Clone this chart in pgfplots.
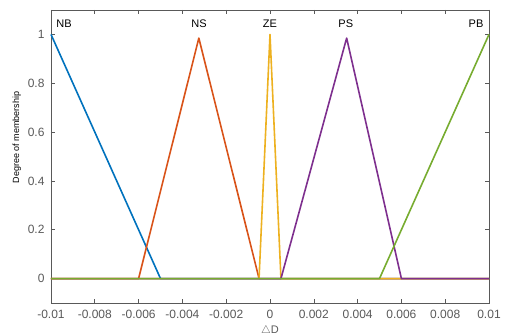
\documentclass[border=0pt]{standalone}
\usepackage{pgfplots}
\pgfplotsset{compat=1.18}
\usetikzlibrary{calc}
\usepackage{fontspec}
\setmainfont{Liberation Sans}
\definecolor{mb}{rgb}{0,0.447,0.741}
\definecolor{mo}{rgb}{0.85,0.325,0.098}
\definecolor{my}{rgb}{0.929,0.694,0.125}
\definecolor{mp}{rgb}{0.494,0.184,0.556}
\definecolor{mg}{rgb}{0.466,0.674,0.188}
\definecolor{axc}{rgb}{0.35,0.35,0.35}
\begin{document}
\begin{tikzpicture}
\begin{axis}[name=ax,
  scale only axis, width=438pt, height=293pt,
  xmin=-0.01, xmax=0.01, ymin=-0.1, ymax=1.1,
  xtick={-0.01,-0.008,-0.006,-0.004,-0.002,0,0.002,0.004,0.006,0.008,0.01},
  xticklabels={-0.01,-0.008,-0.006,-0.004,-0.002,0,0.002,0.004,0.006,0.008,0.01},
  ytick={0,0.2,0.4,0.6,0.8,1},
  yticklabels={0,0.2,0.4,0.6,0.8,1},
  scaled x ticks=false,
  tick align=inside, major tick length=4pt,
  axis line style={axc, line width=0.6pt},
  every tick/.style={axc, line width=0.6pt},
  tick label style={font=\fontsize{12}{14}\selectfont, text=axc},
  xticklabel style={yshift=-4pt},
  yticklabel style={xshift=-3pt},
  xlabel={$\triangle$D}, ylabel={Degree of membership},
  xlabel style={at={(axis description cs:0.5,0)}, anchor=north, inner sep=0pt, yshift=-22.5pt, font=\fontsize{11}{13}\selectfont, text=axc},
  ylabel style={at={(ticklabel cs:0.565)}, font=\fontsize{9}{11}\selectfont, yshift=0pt},
  every axis plot/.append style={line width=1.6pt, line join=round},
  clip=false,
]
\addplot[mb] coordinates {(-0.01,1) (-0.005,0) (0.01,0)};
\addplot[mo] coordinates {(-0.01,0) (-0.006,0) (-0.00325,0.985) (-0.0005,0) (0.01,0)};
\addplot[my] coordinates {(-0.01,0) (-0.0005,0) (0,1) (0.0005,0) (0.01,0)};
\addplot[mp] coordinates {(-0.01,0) (0.0005,0) (0.0035,0.985) (0.006,0) (0.01,0)};
\addplot[mg] coordinates {(-0.01,0) (0.005,0) (0.01,1)};
\node[font=\fontsize{11}{13}\selectfont] at (axis cs:-0.0094,1.045) {NB};
\node[font=\fontsize{11}{13}\selectfont] at (axis cs:-0.00324,1.045) {NS};
\node[font=\fontsize{11}{13}\selectfont] at (axis cs:0,1.045) {ZE};
\node[font=\fontsize{11}{13}\selectfont] at (axis cs:0.00346,1.045) {PS};
\node[font=\fontsize{11}{13}\selectfont] at (axis cs:0.00941,1.045) {PB};
\end{axis}
\pgfresetboundingbox
\useasboundingbox ($(ax.south west)+(-51pt,-33pt)$) rectangle ($(ax.north east)+(17pt,10pt)$);
\end{tikzpicture}
\end{document}
